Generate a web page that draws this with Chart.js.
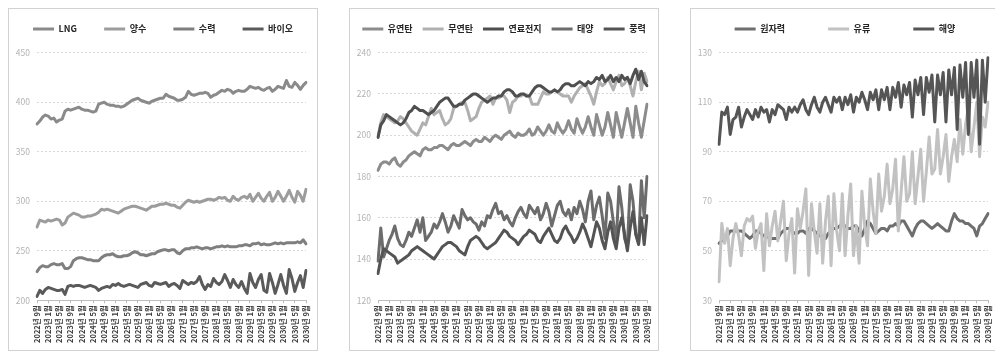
<!DOCTYPE html>
<html>
<head>
<meta charset="utf-8">
<script src="https://cdn.jsdelivr.net/npm/chart.js@4.4.1/dist/chart.umd.min.js"></script>
<style>
  html, body { margin: 0; padding: 0; background: #fff; width: 995px; height: 351px; overflow: hidden; }
  .panel { position: absolute; top: 8px; width: 310px; height: 343px; box-sizing: border-box; border: 1px solid #d2d2d2; background: #fff; }
  .panel canvas { display: block; }
</style>
</head>
<body>
<div class="panel" style="left:8px"><canvas id="c1" width="308" height="341"></canvas></div>
<div class="panel" style="left:349px"><canvas id="c2" width="308" height="341"></canvas></div>
<div class="panel" style="left:690px"><canvas id="c3" width="308" height="341"></canvas></div>
<script>
// Monthly categories, September 2022 through September 2030
const months = [];
for (let y = 2022, m = 9; y < 2030 || (y === 2030 && m <= 9);) {
  months.push(y + '년 ' + m + '월');
  m++;
  if (m > 12) { m = 1; y++; }
}

// Labels shown under the x axis
const tickLabels = [
  '2022년 9월', '2023년 1월', '2023년 5월', '2023년 9월', '2024년 1월', '2024년 5월', '2024년 9월',
  '2025년 1월', '2025년 5월', '2025년 9월', '2026년 1월', '2026년 5월', '2026년 9월',
  '2027년 1월', '2027년 5월', '2027년 9월', '2028년 1월', '2028년 5월', '2028년 9월',
  '2029년 1월', '2029년 5월', '2029년 9월', '2030년 1월', '2030년 5월', '2030년 9월'
];

// Panel 1
const panel1Names = ['LNG', '양수', '수력', '바이오'];
const lngValues = [
  378, 381, 385, 387, 386, 383, 384, 380, 382, 383,
  391, 393, 392, 393, 394, 395, 393, 392, 392, 391,
  390, 391, 398, 399, 400, 398, 397, 397, 396, 396,
  395, 396, 398, 400, 402, 403, 404, 402, 401, 400,
  399, 401, 402, 403, 404, 404, 408, 406, 405, 404,
  402, 402, 403, 405, 411, 408, 407, 408, 409, 409,
  410, 409, 405, 407, 408, 410, 412, 411, 413, 412,
  409, 411, 412, 411, 411, 413, 416, 415, 414, 415,
  413, 412, 414, 415, 411, 413, 416, 415, 414, 422,
  416, 415, 420, 417, 413, 417, 420
];
const pumpedValues = [
  274, 281, 280, 279, 281, 280, 281, 282, 281, 276,
  278, 284, 286, 288, 287, 286, 284, 284, 285, 285,
  286, 287, 289, 292, 291, 292, 291, 290, 289, 288,
  290, 292, 293, 294, 295, 295, 294, 293, 292, 291,
  293, 295, 295, 296, 297, 297, 298, 297, 296, 296,
  294, 293, 296, 299, 301, 300, 299, 300, 299, 300,
  301, 302, 302, 301, 302, 304, 303, 304, 301, 300,
  305, 302, 301, 304, 305, 303, 307, 300, 304, 308,
  303, 300, 305, 309, 300, 304, 310, 305, 300, 305,
  311, 304, 299, 310, 306, 300, 312
];
const hydroValues = [
  229, 233, 235, 234, 234, 236, 237, 236, 236, 237,
  232, 232, 234, 240, 242, 243, 243, 242, 241, 241,
  240, 240, 240, 243, 245, 246, 246, 247, 245, 244,
  244, 245, 245, 246, 248, 249, 248, 246, 246, 245,
  246, 247, 247, 249, 250, 251, 251, 250, 251, 251,
  248, 247, 250, 252, 252, 253, 253, 254, 253, 252,
  253, 253, 252, 253, 254, 254, 255, 254, 255, 254,
  254, 254, 255, 255, 256, 256, 255, 257, 257, 258,
  256, 257, 256, 256, 257, 258, 257, 258, 257, 258,
  258, 258, 258, 259, 258, 261, 257
];
const bioValues = [
  204, 210, 207, 211, 213, 212, 211, 210, 210, 211,
  206, 214, 215, 214, 215, 215, 214, 213, 214, 215,
  214, 213, 210, 212, 213, 214, 213, 216, 215, 217,
  215, 214, 215, 216, 215, 214, 213, 216, 217, 218,
  215, 214, 218, 217, 216, 217, 218, 214, 216, 217,
  215, 212, 220, 218, 216, 218, 217, 219, 224, 216,
  211, 216, 214, 222, 218, 216, 219, 226, 220, 213,
  221, 216, 213, 219, 212, 207, 227, 218, 213, 221,
  226, 210, 208, 227, 218, 207, 216, 226, 215, 207,
  231, 222, 209, 218, 225, 213, 230
];

// Panel 2
const panel2Names = ['유연탄', '무연탄', '연료전지', '태양', '풍력'];
const bituminousValues = [
  183, 186, 187, 187, 186, 188, 189, 186, 185, 187,
  188, 190, 191, 192, 191, 190, 193, 194, 193, 193,
  194, 194, 195, 195, 194, 193, 195, 196, 195, 195,
  196, 197, 196, 195, 197, 198, 197, 197, 199, 198,
  197, 199, 200, 199, 198, 200, 201, 202, 200, 199,
  201, 200, 200, 201, 203, 200, 201, 204, 202, 200,
  202, 205, 202, 201, 206, 203, 201, 203, 207, 203,
  201, 208, 204, 201, 204, 209, 204, 200, 210, 205,
  200, 204, 211, 205, 199, 211, 205, 199, 206, 213,
  206, 199, 214, 206, 199, 207, 215
];
const anthraciteValues = [
  199, 206, 210, 209, 208, 207, 206, 207, 209, 208,
  206, 204, 202, 201, 200, 203, 206, 205, 209, 213,
  210, 211, 212, 208, 205, 206, 208, 213, 214, 215,
  216, 216, 212, 207, 208, 209, 213, 216, 217, 218,
  219, 215, 218, 218, 219, 219, 217, 211, 216, 217,
  219, 219, 220, 219, 219, 215, 215, 215, 218, 221,
  220, 220, 221, 222, 221, 220, 219, 219, 219, 216,
  219, 221, 223, 224, 225, 222, 219, 215, 221, 226,
  224, 225, 228, 225, 222, 226, 229, 224, 225, 228,
  224, 219, 226, 231, 222, 230, 226
];
const fuelCellValues = [
  199, 205, 207, 210, 209, 208, 207, 206, 205, 206,
  208, 211, 212, 214, 213, 212, 212, 211, 210, 211,
  212, 214, 216, 217, 218, 218, 216, 214, 214, 215,
  215, 217, 218, 219, 220, 220, 219, 218, 217, 216,
  217, 218, 218, 219, 219, 221, 222, 222, 221, 219,
  219, 220, 220, 219, 219, 221, 223, 224, 224, 223,
  222, 221, 221, 222, 221, 222, 224, 225, 225, 224,
  224, 225, 226, 225, 224, 226, 225, 226, 228, 227,
  229, 226, 227, 229, 226, 228, 226, 229, 227, 228,
  225, 229, 232, 227, 231, 226, 224
];
const solarValues = [
  139, 155, 141, 145, 149, 152, 156, 150, 147, 146,
  149, 153, 151, 155, 159, 153, 160, 149, 151, 153,
  157, 155, 158, 162, 158, 153, 156, 161, 158, 155,
  164, 161, 159, 160, 158, 157, 154, 158, 156, 161,
  160, 164, 167, 162, 163, 159, 161, 158, 156, 160,
  163, 165, 162, 160, 166, 164, 162, 165, 159, 162,
  167, 163, 156, 161, 166, 168, 163, 161, 164, 159,
  165, 162, 168, 164, 158, 168, 173, 159, 166, 170,
  161, 150, 172, 168, 158, 148, 175, 165, 150, 146,
  176, 168, 152, 148, 178, 160, 180
];
const windValues = [
  133, 140, 145, 144, 143, 142, 141, 138, 139, 140,
  141, 142, 144, 145, 146, 145, 144, 143, 142, 141,
  140, 142, 144, 146, 147, 148, 148, 147, 146, 144,
  143, 142, 146, 149, 150, 151, 150, 148, 146, 145,
  146, 147, 148, 150, 152, 154, 153, 151, 150, 149,
  147, 149, 151, 152, 154, 153, 152, 149, 148, 151,
  153, 155, 152, 149, 148, 150, 154, 156, 153, 151,
  148, 150, 153, 157, 154, 150, 146, 152, 158, 155,
  149, 145, 153, 158, 150, 145, 155, 160, 152, 144,
  155, 163, 152, 147, 160, 147, 161
];

// Panel 3
const panel3Names = ['원자력', '유류', '해양'];
const nuclearValues = [
  53, 54, 55, 56, 58, 58, 58, 58, 58, 57,
  56, 55, 56, 58, 58, 57, 56, 56, 55, 55,
  55, 55, 57, 58, 59, 59, 58, 57, 57, 58,
  58, 57, 59, 59, 58, 57, 56, 56, 55, 57,
  58, 59, 59, 60, 61, 60, 59, 59, 60, 60,
  58, 56, 59, 62, 61, 59, 57, 58, 59, 59,
  58, 60, 60, 61, 60, 62, 62, 60, 58, 56,
  59, 61, 62, 62, 61, 60, 59, 60, 61, 60,
  59, 58, 58, 62, 65, 63, 62, 62, 61, 61,
  60, 59, 56, 60, 61, 63, 65
];
const oilValues = [
  37.5, 61, 53, 59, 44, 55, 61, 56, 48, 60,
  63, 62, 64, 51, 58, 61, 42, 65, 52, 60,
  66, 54, 62, 70, 46, 57, 63, 41, 67, 59,
  66, 75, 40, 69, 58, 49, 69, 45, 62, 72,
  44, 73, 58, 50, 73, 48, 64, 77, 48, 60,
  45, 74, 60, 52, 79, 66, 57, 81, 66, 72,
  85, 69, 75, 87, 58, 74, 88, 70, 73, 90,
  69, 80, 91, 70, 82, 96, 81, 83, 99, 81,
  88, 97, 78, 88, 95, 86, 103, 89, 101, 108,
  90, 100, 110, 88, 104, 100, 110
];
const oceanValues = [
  93, 106, 105, 108, 97, 103, 104, 108, 100, 104,
  107, 105, 103, 107, 104, 108, 106, 107, 102, 107,
  105, 109, 108, 107, 103, 108, 106, 108, 106, 109,
  111, 107, 105, 109, 112, 108, 106, 110, 112, 109,
  106, 112, 110, 112, 107, 112, 109, 113, 106, 112,
  110, 114, 111, 107, 114, 111, 115, 107, 115, 111,
  116, 107, 116, 112, 118, 108, 117, 113, 118, 104,
  119, 113, 120, 105, 120, 114, 121, 102, 121, 113,
  122, 102, 123, 113, 124, 99, 125, 112, 126, 97,
  126, 112, 127, 93, 127, 110, 128
];

// Axis ranges: [min, max, step]
const panel1Range = [200, 450, 50];
const panel2Range = [120, 240, 20];
const panel3Range = [30, 130, 20];

const FONT = '"Noto Sans CJK KR", "Noto Sans", sans-serif';

// Adds space between the legend row and the plot area
const legendGap = {
  id: 'legendGap',
  beforeLayout(chart, args, opts) {
    const lg = chart.legend;
    if (lg && !lg.__gapWrapped) {
      const fit = lg.fit;
      lg.fit = function () { fit.call(this); this.height += opts.extra || 0; };
      lg.__gapWrapped = true;
    }
  }
};

function makeChart(id, names, series, colors, range, spacer) {
  const n = series.length;
  const datasets = series.map((vals, i) => ({
    label: names[i],
    data: vals,
    borderColor: colors[i],
    backgroundColor: colors[i],
    borderWidth: 3,
    pointRadius: 0,
    pointHoverRadius: 0,
    tension: 0,
    borderJoinStyle: 'round',
    borderCapStyle: 'round',
    order: n - 1 - i
  }));
  return new Chart(document.getElementById(id), {
    type: 'line',
    data: { labels: months, datasets },
    plugins: [legendGap],
    options: {
      responsive: false,
      animation: false,
      events: [],
      layout: { padding: { top: 5.5, right: 0, bottom: 0, left: 0 } },
      plugins: {
        legendGap: { extra: 9.2 },
        tooltip: { enabled: false },
        legend: {
          position: 'top',
          align: 'center',
          labels: {
            boxWidth: 21,
            boxHeight: 3,
            padding: 10,
            color: '#262626',
            font: { family: FONT, size: 9, weight: 'bold' },
            sort: (a, b) => a.datasetIndex - b.datasetIndex,
            generateLabels(chart) {
              const items = Chart.defaults.plugins.legend.labels.generateLabels(chart);
              items.forEach(it => {
                it.lineWidth = 0;
                if (it.datasetIndex < n - 1) it.text = it.text + spacer;
              });
              return items;
            }
          }
        }
      },
      scales: {
        x: {
          type: 'category',
          afterFit(scale) { scale.height = 49.7; },
          grid: {
            display: true,
            drawOnChartArea: false,
            drawTicks: true,
            tickLength: 3,
            tickColor: ctx => (tickLabels.includes(months[ctx.index]) ? '#bdbdbd' : 'rgba(0,0,0,0)'),
            color: 'rgba(0,0,0,0)'
          },
          border: { display: true, color: '#bdbdbd', width: 1 },
          ticks: {
            autoSkip: false,
            minRotation: 90,
            maxRotation: 90,
            padding: 2,
            color: '#3a3a3a',
            font: { family: FONT, size: 7.5, weight: 'bold' },
            callback(value, index) {
              const lab = months[index];
              return tickLabels.includes(lab) ? lab : '';
            }
          }
        },
        y: {
          min: range[0],
          max: range[1],
          afterFit(scale) { scale.width = 28; },
          grid: { color: '#d9d9d9', lineWidth: 1, drawTicks: false },
          border: { display: false, dash: [2, 2] },
          ticks: {
            stepSize: range[2],
            padding: 7,
            color: '#b3b3b3',
            font: { family: FONT, size: 8.5 }
          }
        },
        // empty strip on the right edge of the plot
        edge: {
          type: 'linear',
          position: 'right',
          afterFit(scale) { scale.width = 6.5; },
          grid: { display: false, drawTicks: false },
          border: { display: false },
          ticks: { display: false }
        }
      }
    }
  });
}

makeChart('c1', panel1Names,
  [lngValues, pumpedValues, hydroValues, bioValues],
  ['#8a8a8a', '#9c9c9c', '#7f7f7f', '#5a5a5a'],
  panel1Range, '\u3000    ');

makeChart('c2', panel2Names,
  [bituminousValues, anthraciteValues, fuelCellValues, solarValues, windValues],
  ['#8c8c8c', '#b0b0b0', '#4f4f4f', '#6c6c6c', '#545454'],
  panel2Range, '');

makeChart('c3', panel3Names,
  [nuclearValues, oilValues, oceanValues],
  ['#6e6e6e', '#c2c2c2', '#555555'],
  panel3Range, '\u3000\u3000\u3000   ');
</script>
</body>
</html>
